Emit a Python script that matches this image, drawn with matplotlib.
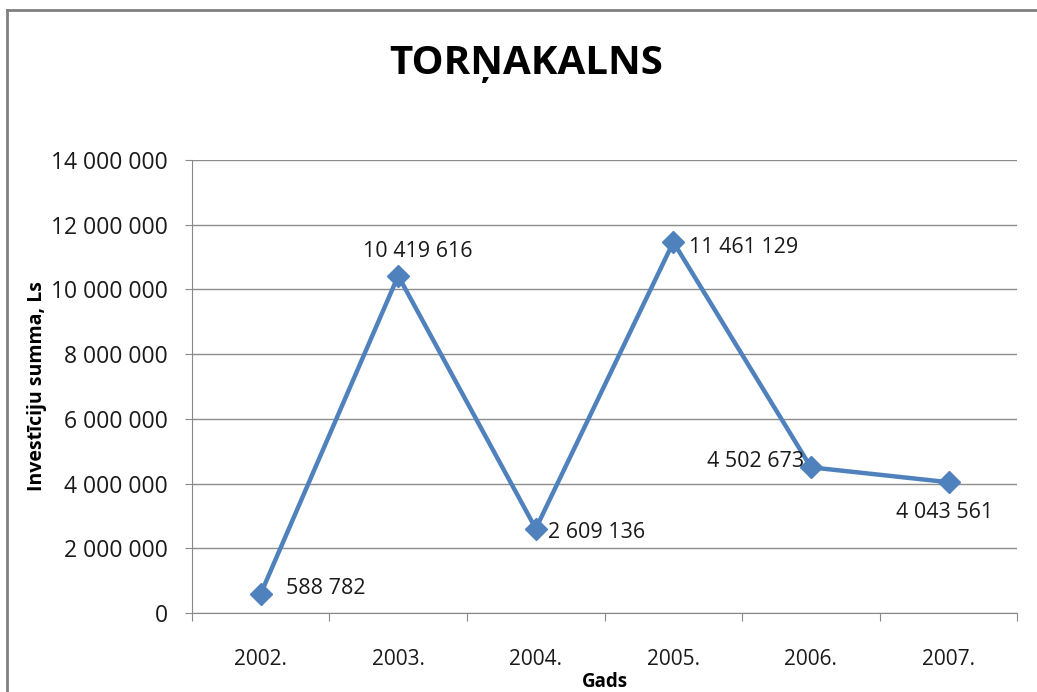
import matplotlib.pyplot as plt
from matplotlib.lines import Line2D
from matplotlib.ticker import FuncFormatter, FixedLocator

years = ['2002.', '2003.', '2004.', '2005.', '2006.', '2007.']
values = [588782, 10419616, 2609136, 11461129, 4502673, 4043561]
# label placement relative to each point (offset in points, alignment)
label_pos = [
    ((18, 4), 'left', 'center'),
    ((14, 10), 'center', 'bottom'),
    ((9, -3), 'left', 'center'),
    ((11, -4), 'left', 'center'),
    ((-5, 4), 'right', 'center'),
    ((-3, -14), 'center', 'top'),
]

plt.rcParams['font.family'] = ['Open Sans', 'DejaVu Sans']


def fmt_num(v, pos=None):
    return f"{int(v):,}".replace(',', ' ')


fig = plt.figure(figsize=(10.37, 6.92), dpi=100)
ax = fig.add_axes([0.185, 0.114, 0.796, 0.655])

x = list(range(len(years)))
ax.plot(x, values, color='#4F81BD', linewidth=3.2, marker='D', markersize=11,
        zorder=3, clip_on=False)

for xi, v, (off, ha, va) in zip(x, values, label_pos):
    ax.annotate(fmt_num(v), (xi, v), xytext=off, textcoords='offset points',
                ha=ha, va=va, fontsize=15.5, color='#1a1a1a')

ax.set_xlim(-0.5, len(years) - 0.5)
ax.set_ylim(0, 14000000)
ax.set_yticks(range(0, 14000001, 2000000))
ax.yaxis.set_major_formatter(FuncFormatter(fmt_num))
ax.xaxis.set_major_locator(FixedLocator([i - 0.5 for i in range(len(years) + 1)]))
ax.xaxis.set_minor_locator(FixedLocator(x))
ax.set_xticklabels([])
ax.set_xticklabels(years, minor=True)
ax.tick_params(axis='x', which='major', length=6, color='#888888', direction='out')
ax.tick_params(axis='x', which='minor', length=0, pad=26, labelsize=15,
               labelcolor='#1a1a1a')
ax.tick_params(axis='y', length=5, color='#888888', labelsize=16.5, pad=12,
               labelcolor='#1a1a1a')

ax.grid(axis='y', color='#8c8c8c', linewidth=1)
ax.set_axisbelow(True)
for s in ['top', 'right']:
    ax.spines[s].set_visible(False)
for s in ['left', 'bottom']:
    ax.spines[s].set_color('#888888')

ax.set_xlabel('Gads', fontsize=13.5, fontweight='bold', labelpad=1)
ax.set_ylabel('Investīciju summa, Ls', fontsize=14, fontweight='bold', labelpad=3)

fig.text(0.507, 0.908, 'TORŅAKALNS', ha='center', va='center', fontsize=29,
         fontweight='bold')

# chart frame (only top and left edges are visible in the crop)
fig.add_artist(Line2D([0.0065, 1.0], [0.986, 0.986], transform=fig.transFigure,
                      color='#808080', linewidth=2))
fig.add_artist(Line2D([0.0065, 0.0065], [0.0, 0.986], transform=fig.transFigure,
                      color='#808080', linewidth=2))

fig.savefig('out.png', dpi=100)
